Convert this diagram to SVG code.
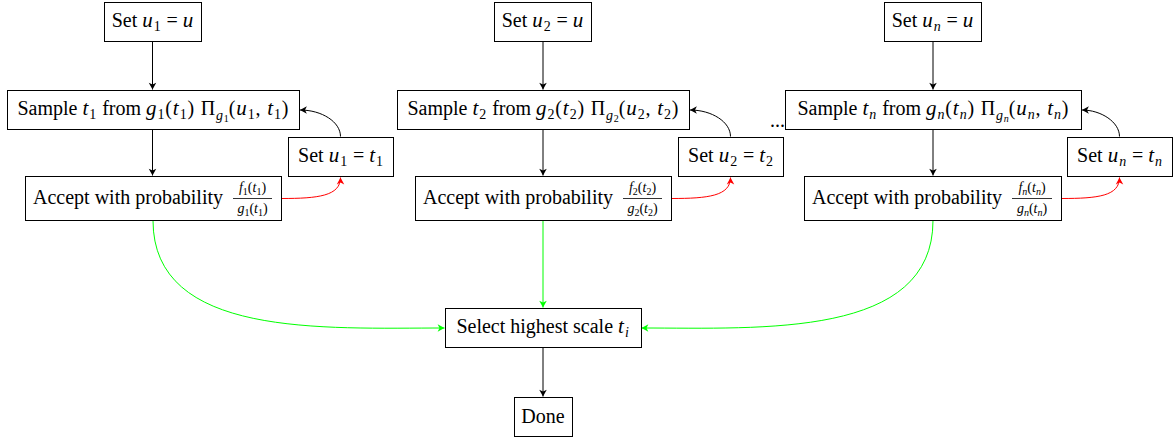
<svg xmlns="http://www.w3.org/2000/svg" width="1176" height="440" viewBox="0 0 1176 440">
<style>
.box{fill:#fff;stroke:#000;stroke-width:1}
text{font-family:"Liberation Serif","DejaVu Serif",serif;font-size:20px;fill:#000}
.c{text-anchor:middle}
.e{text-anchor:end}
.i{font-style:italic;font-size:21px;letter-spacing:1px}
.s{font-size:14px;letter-spacing:0.8px}
.si{font-size:14px;font-style:italic;letter-spacing:0.8px}
.ss{font-size:10px}
.ssi{font-size:10px;font-style:italic}
.m{letter-spacing:0.8px}
.fr{font-size:14px}
.fi{font-style:italic;font-size:14px}
.frs{font-size:10px}
.frsi{font-size:10px;font-style:italic}
.k{fill:none;stroke:#000;stroke-width:1}
.r{fill:none;stroke:#f00;stroke-width:1}
.g{fill:none;stroke:#0f0;stroke-width:1}
</style>
<defs>
<marker id="ak" markerUnits="userSpaceOnUse" markerWidth="10" markerHeight="10" refX="0" refY="0" viewBox="-6 -4 7 8" orient="auto"><path d="M0,0 L-5.5,-3 L-4,0 L-5.5,3 Z" fill="#000"/></marker>
<marker id="ar" markerUnits="userSpaceOnUse" markerWidth="10" markerHeight="10" refX="0" refY="0" viewBox="-6 -4 7 8" orient="auto"><path d="M0,0 L-5.5,-3 L-4,0 L-5.5,3 Z" fill="#f00"/></marker>
<marker id="ag" markerUnits="userSpaceOnUse" markerWidth="10" markerHeight="10" refX="0" refY="0" viewBox="-6 -4 7 8" orient="auto"><path d="M0,0 L-5.5,-3 L-4,0 L-5.5,3 Z" fill="#0f0"/></marker>
</defs>

<g id="connectors">
<path class="k" d="M152.5,41.5 V89.5" marker-end="url(#ak)"/>
<path class="k" d="M152.5,129.5 V175.5" marker-end="url(#ak)"/>
<path class="k" d="M340.5,136.5 C340.5,122 322,110 300,110" marker-end="url(#ak)"/>
<path class="r" d="M281.5,198.5 C318,198.5 340.5,196 340.5,177.5" marker-end="url(#ar)"/>
<path class="k" d="M543,41.5 V89.5" marker-end="url(#ak)"/>
<path class="k" d="M543,129.5 V175.5" marker-end="url(#ak)"/>
<path class="k" d="M730.5,136.5 C730.5,122 712,110 690,110" marker-end="url(#ak)"/>
<path class="r" d="M671.5,198.5 C708,198.5 730.5,196 730.5,177.5" marker-end="url(#ar)"/>
<path class="k" d="M933,41.5 V89.5" marker-end="url(#ak)"/>
<path class="k" d="M933,129.5 V175.5" marker-end="url(#ak)"/>
<path class="k" d="M1119.5,136.5 C1119.5,122 1101,110 1082,110" marker-end="url(#ak)"/>
<path class="r" d="M1061.5,198.5 C1098,198.5 1119.5,196 1119.5,177.5" marker-end="url(#ar)"/>
<path class="g" d="M153,220.5 C153,338 323,328 444.5,328" marker-end="url(#ag)"/>
<path class="g" d="M543,220.5 V307.5" marker-end="url(#ag)"/>
<path class="g" d="M933,220.5 C933,338 763,328 641.5,328" marker-end="url(#ag)"/>
<path class="k" d="M543,347.5 V396.5" marker-end="url(#ak)"/>
</g>

<g id="set-u1-u"><rect class="box" x="104.5" y="2.5" width="97" height="39"/><text class="c" x="153" y="27">Set <tspan class="i">u</tspan><tspan class="s" dy="4">1</tspan><tspan dy="-4"> = </tspan><tspan class="i">u</tspan></text></g>
<g id="sample-1"><rect class="box" x="7.5" y="90.5" width="292" height="39"/><text class="c" x="153" y="115">Sample <tspan class="i">t</tspan><tspan class="s" dy="4">1</tspan><tspan dy="-4"> from </tspan><tspan class="i">g</tspan><tspan class="s" dy="4">1</tspan><tspan class="m" dy="-4">(</tspan><tspan class="i">t</tspan><tspan class="s" dy="4">1</tspan><tspan class="m" dy="-4">) Π</tspan><tspan class="si" dy="5">g</tspan><tspan class="ss" dy="2">1</tspan><tspan class="m" dy="-7">(</tspan><tspan class="i">u</tspan><tspan class="s" dy="4">1</tspan><tspan class="m" dy="-4">, </tspan><tspan class="i">t</tspan><tspan class="s" dy="4">1</tspan><tspan dy="-4">)</tspan></text></g>
<g id="set-u1-t1"><rect class="box" x="288.5" y="137.5" width="105" height="39"/><text class="c" x="341" y="162">Set <tspan class="i">u</tspan><tspan class="s" dy="4">1</tspan><tspan dy="-4"> = </tspan><tspan class="i">t</tspan><tspan class="s" dy="4">1</tspan></text></g>
<g id="accept-1"><rect class="box" x="25.5" y="176.5" width="256" height="44"/><text class="e" x="223" y="204">Accept with probability</text><text class="c fr" x="252.5" y="192"><tspan class="fi">f</tspan><tspan class="frs" dy="3">1</tspan><tspan dy="-3">(</tspan><tspan class="fi">t</tspan><tspan class="frs" dy="3">1</tspan><tspan dy="-3">)</tspan></text><line x1="233" y1="198.5" x2="272" y2="198.5" stroke="#000" stroke-width="0.8"/><text class="c fr" x="252.5" y="213"><tspan class="fi">g</tspan><tspan class="frs" dy="3">1</tspan><tspan dy="-3">(</tspan><tspan class="fi">t</tspan><tspan class="frs" dy="3">1</tspan><tspan dy="-3">)</tspan></text></g>

<g id="set-u2-u"><rect class="box" x="494.5" y="2.5" width="97" height="39"/><text class="c" x="543" y="27">Set <tspan class="i">u</tspan><tspan class="s" dy="4">2</tspan><tspan dy="-4"> = </tspan><tspan class="i">u</tspan></text></g>
<g id="sample-2"><rect class="box" x="397.5" y="90.5" width="292" height="39"/><text class="c" x="543" y="115">Sample <tspan class="i">t</tspan><tspan class="s" dy="4">2</tspan><tspan dy="-4"> from </tspan><tspan class="i">g</tspan><tspan class="s" dy="4">2</tspan><tspan class="m" dy="-4">(</tspan><tspan class="i">t</tspan><tspan class="s" dy="4">2</tspan><tspan class="m" dy="-4">) Π</tspan><tspan class="si" dy="5">g</tspan><tspan class="ss" dy="2">2</tspan><tspan class="m" dy="-7">(</tspan><tspan class="i">u</tspan><tspan class="s" dy="4">2</tspan><tspan class="m" dy="-4">, </tspan><tspan class="i">t</tspan><tspan class="s" dy="4">2</tspan><tspan dy="-4">)</tspan></text></g>
<g id="set-u2-t2"><rect class="box" x="678.5" y="137.5" width="105" height="39"/><text class="c" x="731" y="162">Set <tspan class="i">u</tspan><tspan class="s" dy="4">2</tspan><tspan dy="-4"> = </tspan><tspan class="i">t</tspan><tspan class="s" dy="4">2</tspan></text></g>
<g id="accept-2"><rect class="box" x="415.5" y="176.5" width="256" height="44"/><text class="e" x="613" y="204">Accept with probability</text><text class="c fr" x="642.5" y="192"><tspan class="fi">f</tspan><tspan class="frs" dy="3">2</tspan><tspan dy="-3">(</tspan><tspan class="fi">t</tspan><tspan class="frs" dy="3">2</tspan><tspan dy="-3">)</tspan></text><line x1="623" y1="198.5" x2="662" y2="198.5" stroke="#000" stroke-width="0.8"/><text class="c fr" x="642.5" y="213"><tspan class="fi">g</tspan><tspan class="frs" dy="3">2</tspan><tspan dy="-3">(</tspan><tspan class="fi">t</tspan><tspan class="frs" dy="3">2</tspan><tspan dy="-3">)</tspan></text></g>

<g id="dots"><text x="770" y="127">...</text></g>

<g id="set-un-u"><rect class="box" x="884.5" y="2.5" width="97" height="39"/><text class="c" x="933" y="27">Set <tspan class="i">u</tspan><tspan class="si" dy="4">n</tspan><tspan dy="-4"> = </tspan><tspan class="i">u</tspan></text></g>
<g id="sample-n"><rect class="box" x="785.5" y="90.5" width="296" height="39"/><text class="c" x="933" y="115">Sample <tspan class="i">t</tspan><tspan class="si" dy="4">n</tspan><tspan dy="-4"> from </tspan><tspan class="i">g</tspan><tspan class="si" dy="4">n</tspan><tspan class="m" dy="-4">(</tspan><tspan class="i">t</tspan><tspan class="si" dy="4">n</tspan><tspan class="m" dy="-4">) Π</tspan><tspan class="si" dy="5">g</tspan><tspan class="ssi" dy="2">n</tspan><tspan class="m" dy="-7">(</tspan><tspan class="i">u</tspan><tspan class="si" dy="4">n</tspan><tspan class="m" dy="-4">, </tspan><tspan class="i">t</tspan><tspan class="si" dy="4">n</tspan><tspan dy="-4">)</tspan></text></g>
<g id="set-un-tn"><rect class="box" x="1067.5" y="137.5" width="105" height="39"/><text class="c" x="1120" y="162">Set <tspan class="i">u</tspan><tspan class="si" dy="4">n</tspan><tspan dy="-4"> = </tspan><tspan class="i">t</tspan><tspan class="si" dy="4">n</tspan></text></g>
<g id="accept-n"><rect class="box" x="804.5" y="176.5" width="257" height="44"/><text class="e" x="1002" y="204">Accept with probability</text><text class="c fr" x="1032" y="192"><tspan class="fi">f</tspan><tspan class="frsi" dy="3">n</tspan><tspan dy="-3">(</tspan><tspan class="fi">t</tspan><tspan class="frsi" dy="3">n</tspan><tspan dy="-3">)</tspan></text><line x1="1012" y1="198.5" x2="1052" y2="198.5" stroke="#000" stroke-width="0.8"/><text class="c fr" x="1032" y="213"><tspan class="fi">g</tspan><tspan class="frsi" dy="3">n</tspan><tspan dy="-3">(</tspan><tspan class="fi">t</tspan><tspan class="frsi" dy="3">n</tspan><tspan dy="-3">)</tspan></text></g>

<g id="select"><rect class="box" x="445.5" y="308.5" width="196" height="39"/><text class="c" x="543" y="333">Select highest scale <tspan class="i">t</tspan><tspan class="si" dy="4">i</tspan></text></g>
<g id="done"><rect class="box" x="514.5" y="397.5" width="58" height="39"/><text class="c" x="543" y="423">Done</text></g>
</svg>
